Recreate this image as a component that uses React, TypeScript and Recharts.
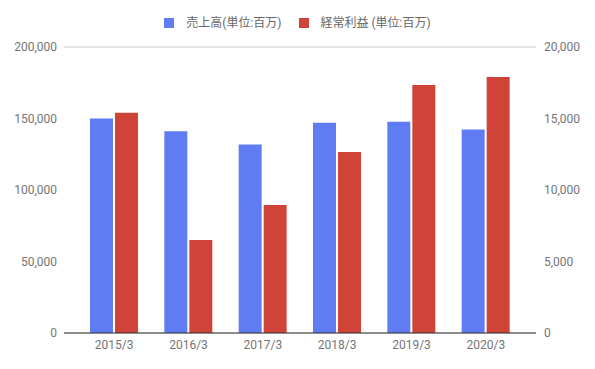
import { BarChart, Bar, XAxis, YAxis, CartesianGrid, Legend } from 'recharts';

const categories = ['2015/3', '2016/3', '2017/3', '2018/3', '2019/3', '2020/3'];
const sales = [150000, 141000, 131800, 147000, 147800, 142300];
const ordinaryProfit = [15400, 6500, 8950, 12650, 17350, 17900];
const leftTicks = [0, 50000, 100000, 150000, 200000];
const rightTicks = [0, 5000, 10000, 15000, 20000];

const salesName = '売上高(単位:百万)';
const profitName = '経常利益 (単位:百万)';

const BLUE = '#5f7cf2';
const RED = '#cf4339';
const TEXT = '#757575';

const data = categories.map((c, i) => ({ name: c, sales: sales[i], profit: ordinaryProfit[i] }));

const fmt = (v: number) => v.toLocaleString('en-US');

function TopLegend() {
  const items = [
    { label: salesName, color: BLUE },
    { label: profitName, color: RED },
  ];
  return (
    <div style={{ display: 'flex', justifyContent: 'center', gap: 17, fontFamily: 'Roboto, "Noto Sans CJK JP", sans-serif', fontSize: 12, color: '#666', lineHeight: '16px' }}>
      {items.map((it) => (
        <div key={it.label} style={{ display: 'flex', alignItems: 'center' }}>
          <span style={{ width: 10, height: 10, background: it.color, display: 'inline-block', marginRight: 12 }} />
          <span>{it.label}</span>
        </div>
      ))}
    </div>
  );
}

export default function App() {
  const tick = { fill: TEXT, fontSize: 12, fontFamily: 'Roboto, sans-serif' };
  return (
    <div style={{ position: 'absolute', left: 0, top: 0, width: 595, height: 369, background: '#fff' }}>
      <BarChart
        width={595}
        height={369}
        data={data}
        margin={{ top: 47, right: 0, bottom: 0, left: 0 }}
        barGap={2}
        barSize={23}
      >
        <CartesianGrid vertical={false} stroke="#cccccc" />
        <Legend
          verticalAlign="middle"
          align="center"
          layout="horizontal"
          wrapperStyle={{ top: 15, left: 0, width: 595 }}
          content={() => <TopLegend />}
        />
        <XAxis
          dataKey="name"
          height={36}
          tick={tick}
          tickLine={false}
          tickMargin={1}
          axisLine={{ stroke: '#333333' }}
          padding={{ left: 13, right: 13 }}
        />
        <YAxis
          yAxisId="left"
          orientation="left"
          width={64}
          domain={[0, 200000]}
          ticks={leftTicks}
          tickFormatter={fmt}
          tick={tick}
          tickLine={false}
          axisLine={false}
          tickMargin={1}
        />
        <YAxis
          yAxisId="right"
          orientation="right"
          width={59}
          domain={[0, 20000]}
          ticks={rightTicks}
          tickFormatter={fmt}
          tick={{ ...tick, textAnchor: 'start' }}
          tickLine={false}
          axisLine={false}
          tickMargin={2}
        />
        <Bar yAxisId="left" dataKey="sales" name={salesName} fill={BLUE} isAnimationActive={false} />
        <Bar yAxisId="right" dataKey="profit" name={profitName} fill={RED} isAnimationActive={false} />
      </BarChart>
    </div>
  );
}
